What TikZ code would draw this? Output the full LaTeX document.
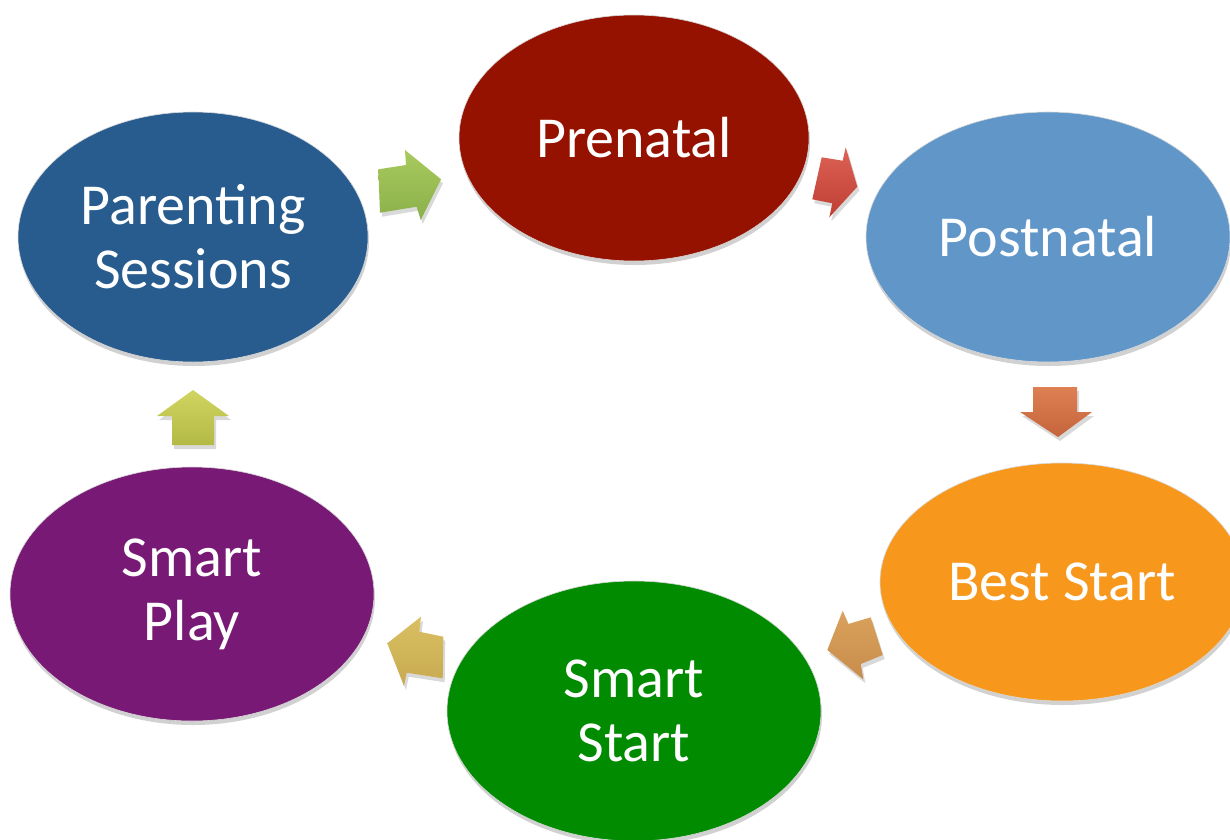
\documentclass[tikz,border=0pt]{standalone}
\usepackage{fontspec}
\setmainfont{Carlito}
\usetikzlibrary{shadows,shapes.geometric}
\definecolor{cPre}{RGB}{150,18,0}
\definecolor{cPost}{RGB}{97,150,201}
\definecolor{cBest}{RGB}{247,152,29}
\definecolor{cSStart}{RGB}{0,139,0}
\definecolor{cSPlay}{RGB}{120,26,117}
\definecolor{cParent}{RGB}{40,92,142}
\definecolor{gTop}{RGB}{168,202,94}\definecolor{gBot}{RGB}{140,176,74}
\definecolor{rTop}{RGB}{222,98,86}\definecolor{rBot}{RGB}{190,62,50}
\definecolor{oTop}{RGB}{222,128,82}\definecolor{oBot}{RGB}{196,100,60}
\definecolor{tTop}{RGB}{218,162,92}\definecolor{tBot}{RGB}{200,140,76}
\definecolor{yTop}{RGB}{218,192,98}\definecolor{yBot}{RGB}{200,170,80}
\definecolor{lTop}{RGB}{208,212,96}\definecolor{lBot}{RGB}{180,186,70}
\tikzset{
  stage/.style={ellipse, draw=white!85!black, line width=0.6pt, fill=#1, text=white,
    inner sep=0pt, align=center, font=\fontsize{58}{64}\selectfont,
    drop shadow={shadow xshift=1pt, shadow yshift=-4pt, opacity=0.18, fill=black}},
  blockarrow/.style 2 args={top color=#1, bottom color=#2, draw=none,
    drop shadow={shadow xshift=2pt, shadow yshift=-4pt, opacity=0.15, fill=black}}
}
\begin{document}
\begin{tikzpicture}[x=1pt,y=-1pt]
\useasboundingbox (0,0) rectangle (1230,839);
\clip (0,0) rectangle (1230,839);
\fill[white] (0,0) rectangle (1230,839);
\node[stage=cPre, minimum width=350, minimum height=246] (pre) at (634,138) {Prenatal};
\node[stage=cPost, minimum width=364, minimum height=250] (post) at (1048,237) {Postnatal};
\node[stage=cBest, minimum width=364, minimum height=238] (best) at (1062,582) {Best Start};
\node[stage=cSStart, minimum width=374, minimum height=260] (sstart) at (634,711) {Smart\\Start};
\node[stage=cSPlay, minimum width=364, minimum height=254] (splay) at (192,594) {Smart\\Play};
\node[stage=cParent, minimum width=350, minimum height=250] (parent) at (193,237) {Parenting\\Sessions};
% block arrows between the stages
\path[blockarrow={gTop}{gBot}] (378.3,169.3) -- (406,165) -- (405,150) -- (441,179.3) -- (420.7,220) -- (416.7,206.7) -- (380,212.7) -- cycle;
\path[blockarrow={rTop}{rBot}] (821.7,157.3) -- (842.7,160.7) -- (845.7,147.3) -- (857.3,186.7) -- (829.3,217.3) -- (832.3,203.3) -- (812.3,199.3) -- cycle;
\path[blockarrow={oTop}{oBot}] (1033,387) -- (1077,387) -- (1077,412) -- (1092,412) -- (1058,437) -- (1020,412) -- (1033,412) -- cycle;
\path[blockarrow={tTop}{tBot}] (842.7,610.7) -- (848.3,624) -- (870.7,617.3) -- (882.7,655) -- (860.7,664) -- (863.3,679.3) -- (827.3,650) -- cycle;
\path[blockarrow={yTop}{yBot}] (421,616.7) -- (419.3,631.7) -- (443.3,636.7) -- (442.7,678.3) -- (406.7,672.7) -- (404,686) -- (387.3,643.3) -- cycle;
\path[blockarrow={lTop}{lBot}] (193,390) -- (229,416) -- (214,416) -- (214,445) -- (172,445) -- (172,416) -- (157,416) -- cycle;
\end{tikzpicture}
\end{document}
